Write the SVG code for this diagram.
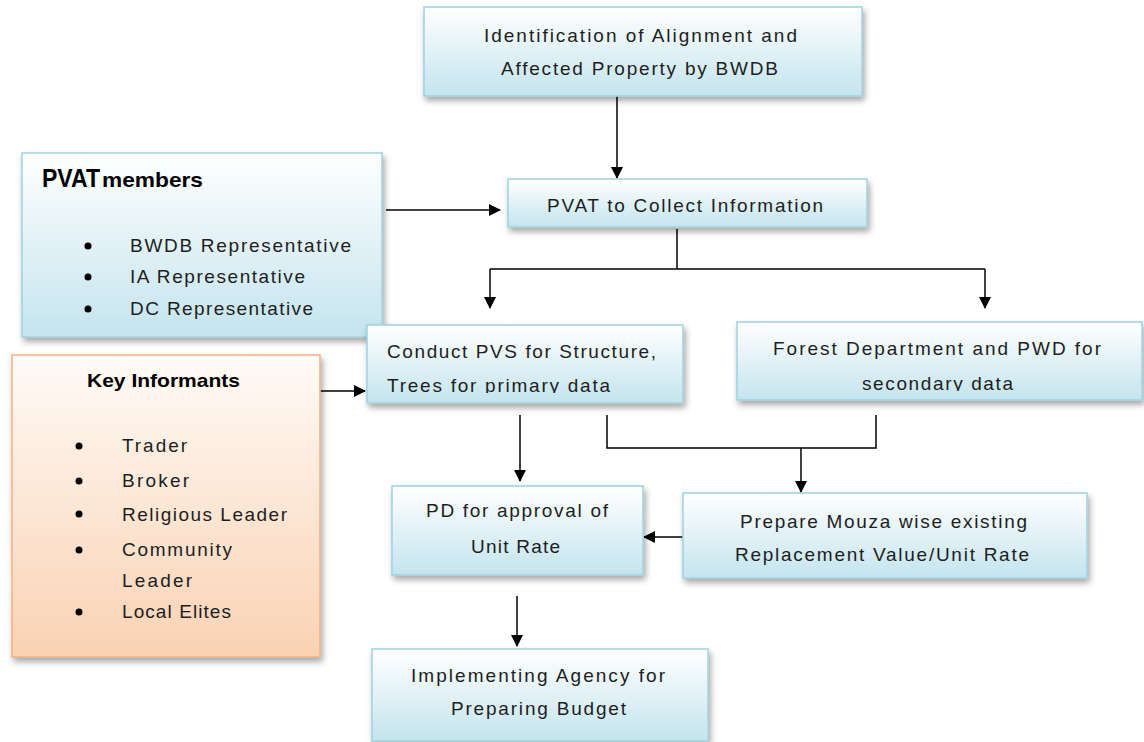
<svg xmlns="http://www.w3.org/2000/svg" width="1144" height="742" viewBox="0 0 1144 742">
<defs>
<linearGradient id="blue" x1="0" y1="0" x2="0" y2="1">
<stop offset="0" stop-color="#ffffff"/>
<stop offset="1" stop-color="#c4e4ee"/>
</linearGradient>
<linearGradient id="orange" x1="0" y1="0" x2="0" y2="1">
<stop offset="0" stop-color="#fffbf7"/>
<stop offset="1" stop-color="#fad2b3"/>
</linearGradient>
<filter id="sh" x="-10%" y="-10%" width="130%" height="140%">
<feDropShadow dx="2" dy="4" stdDeviation="3" flood-color="#000" flood-opacity="0.35"/>
</filter>
<marker id="arr" markerWidth="12" markerHeight="12" refX="11" refY="6" orient="auto" markerUnits="userSpaceOnUse">
<path d="M0,0 L12,6 L0,12 Z" fill="#000"/>
</marker>
<clipPath id="clipConduct"><rect x="367" y="325" width="316" height="68"/></clipPath>
<clipPath id="clipForest"><rect x="737" y="322" width="405" height="69"/></clipPath>
</defs>
<style>
.b{fill:url(#blue);stroke:#9fd2df;stroke-width:1.5;filter:url(#sh)}
.o{fill:url(#orange);stroke:#f3b185;stroke-width:1.5;filter:url(#sh)}
text{font-family:"Liberation Sans",Arial,sans-serif;font-size:19px;fill:#1e1e1e}
.bold{font-weight:bold;fill:#000}
.ln{fill:none;stroke:#000;stroke-width:1.5}
</style>
<rect width="1144" height="742" fill="#fff"/>

<g id="connectors">
<path class="ln" d="M617,96 L617,178" marker-end="url(#arr)"/>
<path class="ln" d="M386,210 L500,210" marker-end="url(#arr)"/>
<path class="ln" d="M677,229 L677,269"/>
<path class="ln" d="M490,269 L985,269"/>
<path class="ln" d="M490,269 L490,308" marker-end="url(#arr)"/>
<path class="ln" d="M985,269 L985,308" marker-end="url(#arr)"/>
<path class="ln" d="M320,391 L365,391" marker-end="url(#arr)"/>
<path class="ln" d="M520,415 L520,481" marker-end="url(#arr)"/>
<path class="ln" d="M607,415 L607,448 L876,448 L876,415"/>
<path class="ln" d="M801,448 L801,492" marker-end="url(#arr)"/>
<path class="ln" d="M683,537 L644,537" marker-end="url(#arr)"/>
<path class="ln" d="M517,596 L517,646" marker-end="url(#arr)"/>
</g>

<g id="identification">
<rect class="b" x="424" y="7" width="438" height="89"/>
<text x="484" y="42" textLength="313" lengthAdjust="spacing">Identification of Alignment and</text>
<text x="501" y="75" textLength="277" lengthAdjust="spacing">Affected Property by BWDB</text>
</g>

<g id="pvat-collect">
<rect class="b" x="508" y="179" width="359" height="48"/>
<text x="547" y="212" textLength="276" lengthAdjust="spacing">PVAT to Collect Information</text>
</g>

<g id="pvat-members">
<rect class="b" x="22" y="153" width="360" height="184"/>
<text class="bold" x="42" y="187" style="font-size:25px" textLength="58" lengthAdjust="spacingAndGlyphs">PVAT</text>
<text class="bold" x="102" y="187" style="font-size:21px" textLength="101" lengthAdjust="spacingAndGlyphs">members</text>
<circle cx="88" cy="246" r="3.5" fill="#000"/>
<circle cx="88" cy="277" r="3.5" fill="#000"/>
<circle cx="88" cy="309" r="3.5" fill="#000"/>
<text x="130" y="252" textLength="221" lengthAdjust="spacing">BWDB Representative</text>
<text x="130" y="283" textLength="175" lengthAdjust="spacing">IA Representative</text>
<text x="130" y="315" textLength="183" lengthAdjust="spacing">DC Representative</text>
</g>

<g id="key-informants">
<rect class="o" x="12" y="355" width="308" height="302"/>
<text class="bold" x="87" y="387" textLength="153" lengthAdjust="spacingAndGlyphs">Key Informants</text>
<circle cx="79" cy="446" r="3.5" fill="#000"/>
<circle cx="79" cy="481" r="3.5" fill="#000"/>
<circle cx="79" cy="514" r="3.5" fill="#000"/>
<circle cx="79" cy="550" r="3.5" fill="#000"/>
<circle cx="79" cy="612" r="3.5" fill="#000"/>
<text x="122" y="452" textLength="65" lengthAdjust="spacing">Trader</text>
<text x="122" y="487" textLength="67" lengthAdjust="spacing">Broker</text>
<text x="122" y="521" textLength="165" lengthAdjust="spacing">Religious Leader</text>
<text x="122" y="556" textLength="110" lengthAdjust="spacing">Community</text>
<text x="122" y="587" textLength="70" lengthAdjust="spacing">Leader</text>
<text x="122" y="618" textLength="109" lengthAdjust="spacing">Local Elites</text>
</g>

<g id="conduct-pvs">
<rect class="b" x="367" y="325" width="316" height="78"/>
<text x="387" y="358" textLength="269" lengthAdjust="spacing">Conduct PVS for Structure,</text>
<text x="387" y="392" textLength="223" lengthAdjust="spacing" clip-path="url(#clipConduct)">Trees for primary data</text>
</g>

<g id="forest">
<rect class="b" x="737" y="322" width="405" height="78"/>
<text x="773" y="355" textLength="328" lengthAdjust="spacing">Forest Department and PWD for</text>
<text x="862" y="390" textLength="151" lengthAdjust="spacing" clip-path="url(#clipForest)">secondary data</text>
</g>

<g id="prepare">
<rect class="b" x="683" y="493" width="404" height="85"/>
<text x="740" y="528" textLength="287" lengthAdjust="spacing">Prepare Mouza wise existing</text>
<text x="735" y="561" textLength="294" lengthAdjust="spacing">Replacement Value/Unit Rate</text>
</g>

<g id="pd">
<rect class="b" x="392" y="486" width="251" height="89"/>
<text x="426" y="517" textLength="182" lengthAdjust="spacing">PD for approval of</text>
<text x="471" y="553" textLength="89" lengthAdjust="spacing">Unit Rate</text>
</g>

<g id="implementing">
<rect class="b" x="372" y="649" width="336" height="92"/>
<text x="411" y="682" textLength="254" lengthAdjust="spacing">Implementing Agency for</text>
<text x="451" y="715" textLength="175" lengthAdjust="spacing">Preparing Budget</text>
</g>
</svg>
